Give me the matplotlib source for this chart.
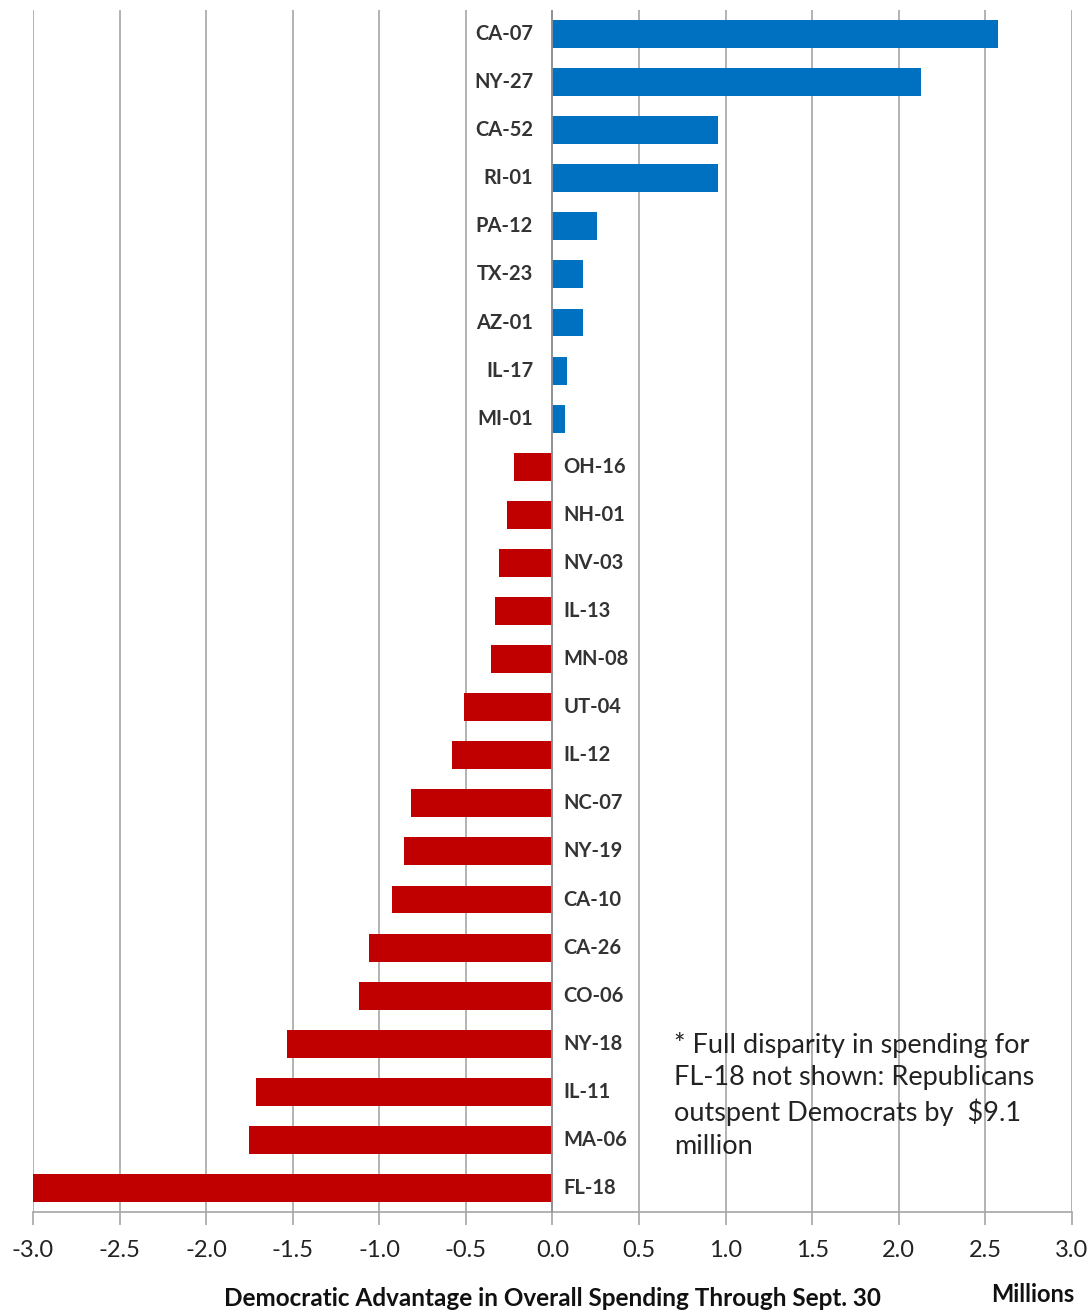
import numpy as np
from matplotlib import pyplot as plt

districts = ["CA-07", "NY-27", "CA-52", "RI-01", "PA-12", "TX-23", "AZ-01", "IL-17", "MI-01",
             "OH-16", "NH-01", "NV-03", "IL-13", "MN-08", "UT-04", "IL-12", "NC-07", "NY-19",
             "CA-10", "CA-26", "CO-06", "NY-18", "IL-11", "MA-06", "FL-18"]
advantage = [2.575, 2.13, 0.955, 0.955, 0.255, 0.175, 0.175, 0.085, 0.07,
             -0.225, -0.26, -0.31, -0.33, -0.355, -0.51, -0.58, -0.815, -0.855,
             -0.925, -1.06, -1.12, -1.535, -1.71, -1.755, -9.1]
ticks = [-3.0, -2.5, -2.0, -1.5, -1.0, -0.5, 0.0, 0.5, 1.0, 1.5, 2.0, 2.5, 3.0]
note = "* Full disparity in spending for\nFL-18 not shown: Republicans\noutspent Democrats by  $9.1\nmillion"

plt.rcParams['font.family'] = ['Lato', 'DejaVu Sans']

fig = plt.figure(figsize=(10.91, 13.14), dpi=100)
ax = fig.add_axes([0.0302, 0.0776, 0.9524, 0.9148])

y = np.arange(len(districts))
colors = ['#0070C0' if v > 0 else '#C00000' for v in advantage]
ax.barh(y, advantage, height=0.58, color=colors, zorder=2)

ax.set_xlim(-3.0, 3.0)
ax.set_ylim(len(districts) - 0.5, -0.5)
ax.set_xticks(ticks)
ax.set_xticklabels([f"{t:.1f}" for t in ticks], fontsize=17, color='#222222')
ax.set_yticks([])

ax.grid(axis='x', color='#A6A6A6', linewidth=1.2, zorder=0)
ax.axvline(0, color='#909090', linewidth=1.3, zorder=3)
for s in ['top', 'left', 'right']:
    ax.spines[s].set_visible(False)
ax.spines['bottom'].set_color('#A6A6A6')
ax.spines['bottom'].set_linewidth(1.2)
ax.tick_params(axis='x', length=9, width=1.2, color='#A6A6A6', pad=11)

# district names sit next to the zero line, on the side away from the bar
for yi, name, v in zip(y, districts, advantage):
    if v > 0:
        ax.annotate(name, (0, yi), xytext=(-14, 0), textcoords='offset points',
                    ha='right', va='center', fontsize=14.5, fontweight='bold', color='#333333')
    else:
        ax.annotate(name, (0, yi), xytext=(8, 0), textcoords='offset points',
                    ha='left', va='center', fontsize=14.5, fontweight='bold', color='#333333')

ax.text(0.7, 20.75, note, fontsize=19.5, color='#222222', va='top', ha='left',
        linespacing=1.38, zorder=4)

fig.text(0.506, 0.003, "Democratic Advantage in Overall Spending Through Sept. 30",
         ha='center', va='bottom', fontsize=17.5, fontweight='bold', color='#111111')
fig.text(0.947, 0.006, "Millions", ha='center', va='bottom', fontsize=17,
         fontweight='bold', color='#111111')

fig.savefig("out.png", dpi=100)
